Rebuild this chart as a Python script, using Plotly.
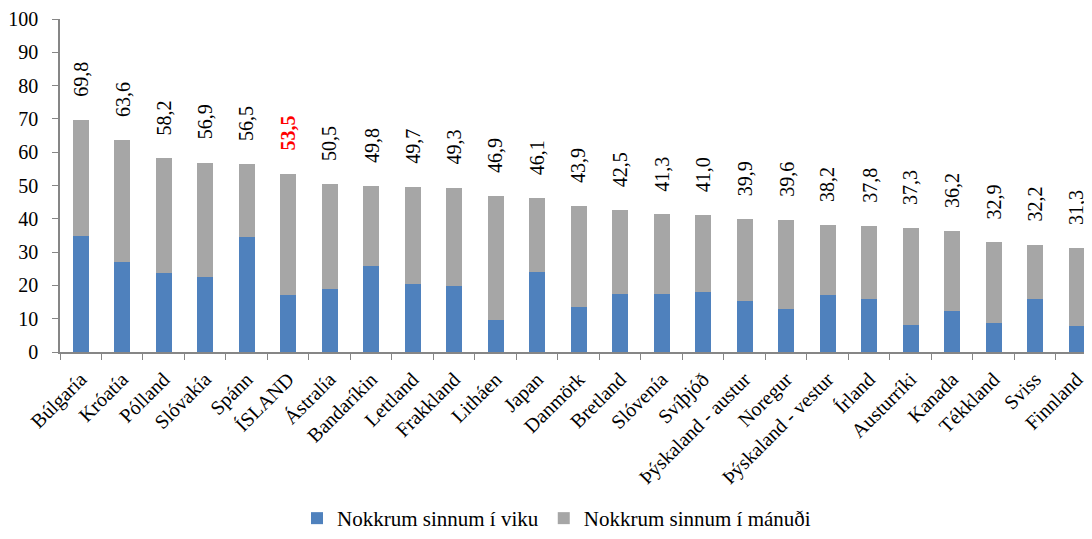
import plotly.graph_objects as go

categories = ["Búlgaría", "Króatía", "Pólland", "Slóvakía", "Spánn", "ÍSLAND", "Ástralía",
              "Bandaríkin", "Lettland", "Frakkland", "Litháen", "Japan", "Danmörk", "Bretland",
              "Slóvenía", "Svíþjóð", "Þýskaland - austur", "Noregur", "Þýskaland - vestur",
              "Írland", "Austurríki", "Kanada", "Tékkland", "Sviss", "Finnland"]
totals = [69.8, 63.6, 58.2, 56.9, 56.5, 53.5, 50.5, 49.8, 49.7, 49.3, 46.9, 46.1, 43.9, 42.5,
          41.3, 41.0, 39.9, 39.6, 38.2, 37.8, 37.3, 36.2, 32.9, 32.2, 31.3]
weekly = [34.7, 27.1, 23.8, 22.4, 34.4, 17.0, 18.8, 25.7, 20.3, 19.7, 9.5, 24.0, 13.4, 17.3,
          17.3, 17.9, 15.2, 13.0, 17.0, 16.0, 8.2, 12.4, 8.6, 15.8, 7.7]
monthly = [round(t - w, 1) for t, w in zip(totals, weekly)]
labels = [f"{t:.1f}".replace(".", ",") for t in totals]
highlight = "ÍSLAND"

FONT = "Liberation Serif, Times New Roman, serif"
BLUE = "#4F81BD"
GREY = "#A6A6A6"
AXIS = "#868686"

fig = go.Figure()
fig.add_trace(go.Bar(x=categories, y=weekly, name="Nokkrum sinnum í viku",
                     marker=dict(color=BLUE, line=dict(width=0))))
fig.add_trace(go.Bar(x=categories, y=monthly, name="Nokkrum sinnum í mánuði",
                     marker=dict(color=GREY, line=dict(width=0))))

for c, t, lab in zip(categories, totals, labels):
    is_h = c == highlight
    fig.add_annotation(x=c, y=t, text=f"<b>{lab}</b>" if is_h else lab, showarrow=False,
                       textangle=-90, yanchor="bottom", yshift=21,
                       font=dict(family=FONT, size=20, color="#FF0000" if is_h else "#000000"))

fig.update_layout(
    barmode="stack",
    bargap=0.61,
    width=1084, height=531,
    margin=dict(l=52, r=0, t=11, b=187),
    plot_bgcolor="white", paper_bgcolor="white",
    font=dict(family=FONT, size=20, color="#000000"),
    showlegend=True,
    legend=dict(orientation="h", x=0.506, xanchor="center", xref="container",
                y=0.0, yanchor="bottom", yref="container",
                font=dict(family=FONT, size=21), traceorder="normal",
                itemwidth=30),
    xaxis=dict(range=[-0.5, 24.37], tickangle=-45, showline=True, linecolor=AXIS, linewidth=1.5,
               ticks="outside", tickson="boundaries", tickcolor=AXIS, ticklen=6,
               tickfont=dict(family=FONT, size=20), showgrid=False, automargin=False,
               ticklabelstandoff=6),
    yaxis=dict(range=[0, 100], dtick=10, showline=True, linecolor=AXIS, linewidth=1.5,
               ticks="outside", tickcolor=AXIS, ticklen=6, showgrid=False, zeroline=False,
               tickfont=dict(family=FONT, size=20), automargin=False, ticklabelstandoff=10),
)

fig.write_html("out.html")
